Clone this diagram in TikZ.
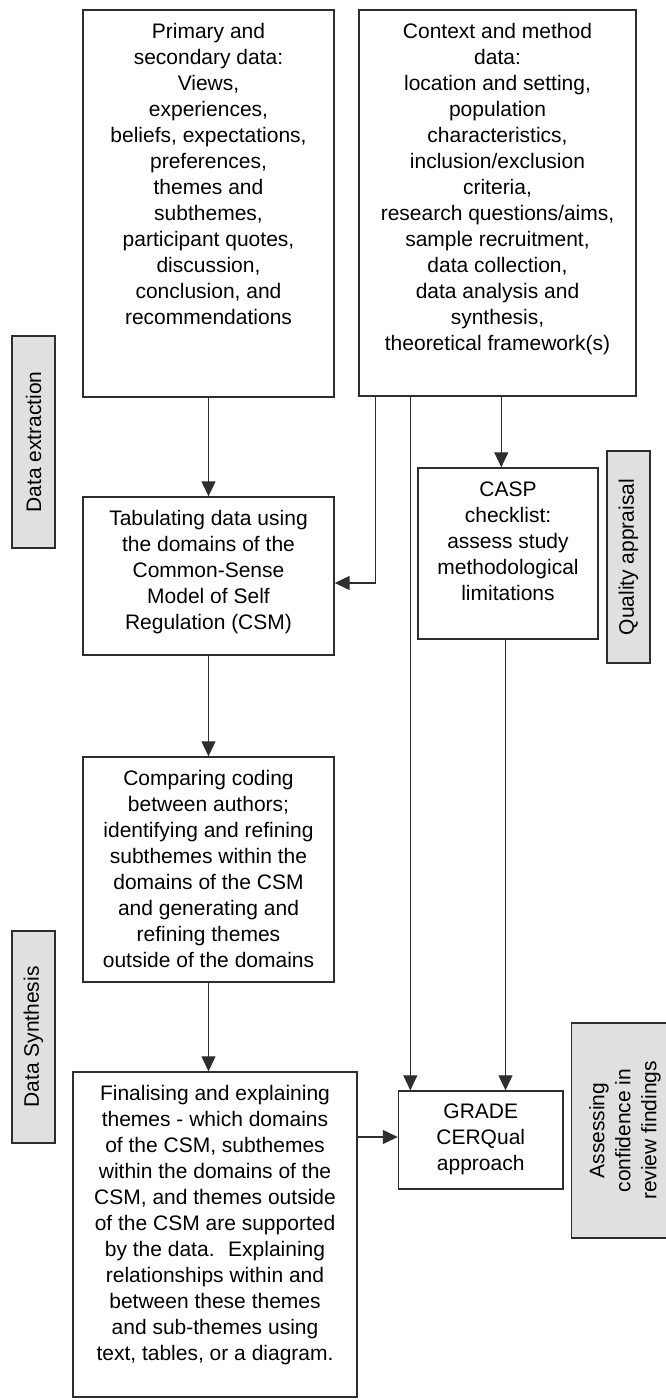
\documentclass[tikz,border=0pt]{standalone}
\usepackage{fontspec}
\setmainfont{Liberation Sans}
\usetikzlibrary{arrows.meta,calc}
\definecolor{ln}{HTML}{2E2E2E}
\definecolor{gfill}{HTML}{E0E0E0}
\begin{document}
\begin{tikzpicture}[x=1pt,y=-1pt,
  box/.style={draw=ln, line width=1.4pt, fill=white, inner sep=0pt},
  sidebox/.style={draw=ln, line width=1.4pt, fill=gfill, inner sep=0pt, rotate=90, align=center, font=\fontsize{21}{26}\selectfont},
  txt/.style={align=center, inner sep=0pt, font=\fontsize{21}{26}\selectfont},
  arr/.style={draw=ln, line width=1.2pt, -{Triangle[length=15pt,width=14pt]}}]
\useasboundingbox (0,0) rectangle (666,1400);

% main boxes
\node[box, minimum width=251pt, minimum height=387pt] (prim) at (208.5,203.5) {};
\node[txt, anchor=north] (primt) at ([yshift=-14pt]prim.north) {Primary and\\secondary data:\\Views,\\experiences,\\beliefs, expectations,\\preferences,\\themes and\\subthemes,\\participant quotes,\\discussion,\\conclusion, and\\recommendations};

\node[box, minimum width=277pt, minimum height=386pt] (ctx) at (497.5,203) {};
\node[txt, anchor=north] (ctxt) at ([yshift=-14pt]ctx.north) {Context and method\\data:\\location and setting,\\population\\characteristics,\\inclusion/exclusion\\criteria,\\research questions/aims,\\sample recruitment,\\data collection,\\data analysis and\\synthesis,\\theoretical framework(s)};

\node[box, minimum width=251pt, minimum height=158pt] (tab) at (208.5,576) {};
\node[txt, anchor=north] (tabt) at ([yshift=-14pt]tab.north) {Tabulating data using\\the domains of the\\Common-Sense\\Model of Self\\Regulation (CSM)};

\node[box, minimum width=180pt, minimum height=171pt] (casp) at (508,553.5) {};
\node[txt, anchor=north] (caspt) at ([yshift=-14pt]casp.north) {CASP\\checklist:\\assess study\\methodological\\limitations};

\node[box, minimum width=251pt, minimum height=225pt] (cmp) at (208.5,869.5) {};
\node[txt, anchor=north] (cmpt) at ([yshift=-14pt]cmp.north) {Comparing coding\\between authors;\\identifying and refining\\subthemes within the\\domains of the CSM\\and generating and\\refining themes\\outside of the domains};

\node[box, minimum width=284pt, minimum height=325pt] (fin) at (215,1234.5) {};
\node[txt, anchor=north] (fint) at ([yshift=-14pt]fin.north) {Finalising and explaining\\themes - which domains\\of the CSM, subthemes\\within the domains of the\\CSM, and themes outside\\of the CSM are supported\\by the data.~ Explaining\\relationships within and\\between these themes\\and sub-themes using\\text, tables, or a diagram.};

\node[box, minimum width=164.5pt, minimum height=98pt] (grade) at (480.75,1140) {};
\node[txt, anchor=north] (gradet) at ([yshift=-13pt]grade.north) {GRADE\\CERQual\\approach};

% side labels
\node[sidebox, minimum width=212pt, minimum height=43pt] (dext) at (33.5,442) {Data extraction};
\node[sidebox, minimum width=212pt, minimum height=43pt] (qual) at (628.5,557) {Quality appraisal};
\node[sidebox, minimum width=212pt, minimum height=43pt] (dsyn) at (33.5,1037) {Data Synthesis};
\node[sidebox, minimum width=215pt, minimum height=106.5pt] (assess) at (625,1130.5) {Assessing\\confidence in\\review findings};

% connectors
\draw[arr] (prim.south) -- (tab.north);
\draw[arr] ([xshift=17pt]ctx.south west) |- ([yshift=-7pt]tab.east);
\draw[arr] ([xshift=52pt]ctx.south west) -- ([xshift=52pt]ctx.south west |- grade.north);
\draw[arr] ([xshift=143pt]ctx.south west) -- ([xshift=143pt]ctx.south west |- casp.north);
\draw[arr] ([xshift=-2.5pt]casp.south) -- ([xshift=-2.5pt]casp.south |- grade.north);
\draw[arr] (tab.south) -- (cmp.north);
\draw[arr] (cmp.south) -- (cmp.south |- fin.north);
\draw[arr] ([yshift=3pt]grade.west -| fin.east) -- ([yshift=3pt]grade.west);
\end{tikzpicture}
\end{document}
